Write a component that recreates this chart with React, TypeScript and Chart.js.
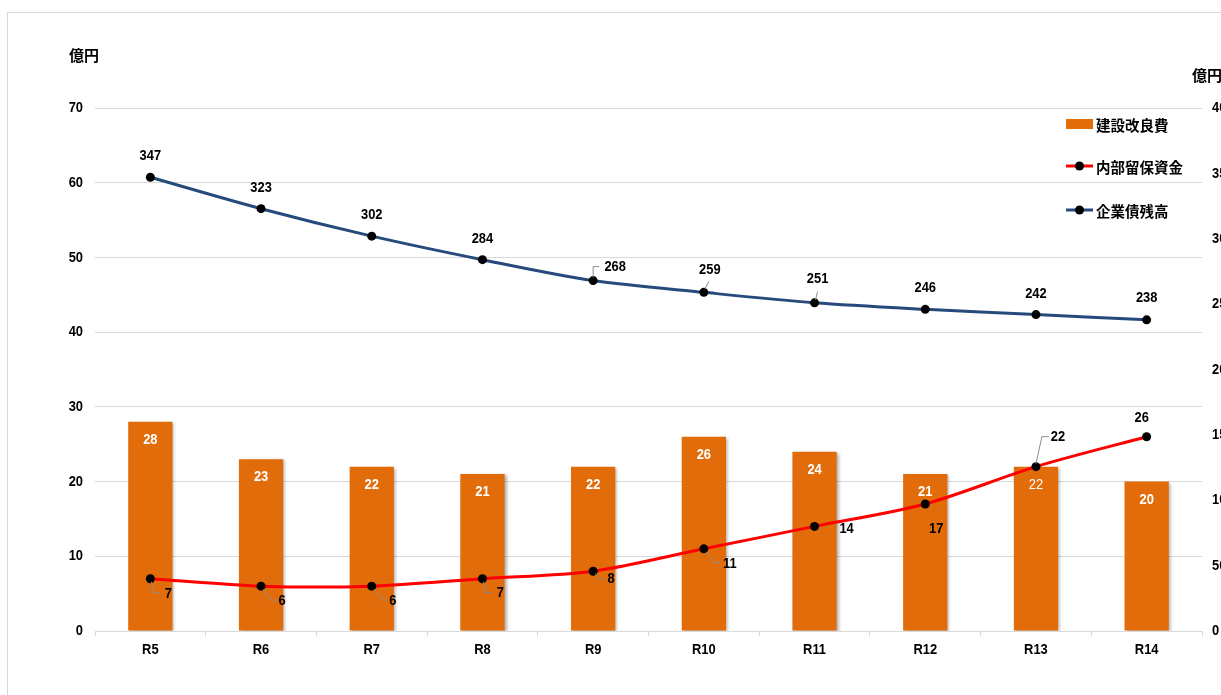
import React, { useEffect, useRef } from "react";
import { Chart, registerables } from "chart.js";

Chart.register(...registerables);

const categories = ["R5", "R6", "R7", "R8", "R9", "R10", "R11", "R12", "R13", "R14"];
const constructionCost = [28, 23, 22, 21, 22, 26, 24, 21, 22, 20];
const internalReserves = [7, 6, 6, 7, 8, 11, 14, 17, 22, 26];
const bondBalance = [347, 323, 302, 284, 268, 259, 251, 246, 242, 238];
const leftTicks = [0, 10, 20, 30, 40, 50, 60, 70];
const rightTicks = [0, 50, 100, 150, 200, 250, 300, 350, 400];
const legendLabels = ["建設改良費", "内部留保資金", "企業債残高"];
const axisUnit = "億円";

// label placement (offset of label centre from the point, optional leader polyline)
type LabelPos = { dx: number; dy: number; leader?: number[][] };
const reserveLabelPos: LabelPos[] = [
  { dx: 18, dy: 15, leader: [[1, 3], [3, 14], [10, 14]] },
  { dx: 21, dy: 15, leader: [[2, 3], [11, 14], [15, 14]] },
  { dx: 21, dy: 15, leader: [[2, 3], [11, 14], [15, 14]] },
  { dx: 18, dy: 14, leader: [[1, 3], [3, 14], [10, 14]] },
  { dx: 18, dy: 8, leader: [[2, 2], [6, 8], [12, 8]] },
  { dx: 26, dy: 15, leader: [[2, 3], [11, 14], [17, 14]] },
  { dx: 32, dy: 2 },
  { dx: 11, dy: 25 },
  { dx: 22, dy: -30, leader: [[0, -3], [6, -30], [13, -30]] },
  { dx: -5, dy: -19 },
];
const bondLabelPos: LabelPos[] = [
  { dx: 0, dy: -21 },
  { dx: 0, dy: -21 },
  { dx: 0, dy: -21 },
  { dx: 0, dy: -21 },
  { dx: 22, dy: -14, leader: [[0, -3], [0, -14], [6, -14]] },
  { dx: 6, dy: -22, leader: [[1, -3], [5, -11]] },
  { dx: 3, dy: -24, leader: [[1, -3], [3, -11]] },
  { dx: 0, dy: -21 },
  { dx: 0, dy: -21 },
  { dx: 0, dy: -22 },
];
const barLabelBold = [true, true, true, true, true, true, true, true, false, true];

const NUMFONT = "'Liberation Sans', Arial, sans-serif";
const NARROW = 0.86;
const JPFONT = "'Noto Sans CJK JP', sans-serif";
const ORANGE = "#E36C0A";
const RED = "#FF0000";
const BLUE = "#264A7C";
const GRID = "#D9D9D9";

function narrowText(ctx: CanvasRenderingContext2D, text: string, x: number, y: number, align: CanvasTextAlign, bold = true) {
  ctx.save();
  ctx.font = `${bold ? "bold " : ""}15px ${NUMFONT}`;
  ctx.textAlign = align;
  ctx.textBaseline = "middle";
  ctx.translate(x, y);
  ctx.scale(NARROW, 1);
  ctx.fillText(text, 0, 0);
  ctx.restore();
}

const labelPlugin = {
  id: "customLabels",
  beforeDatasetDraw(chart: any, args: any) {
    if (args.index === 0) {
      const ctx = chart.ctx;
      ctx.save();
      ctx.shadowColor = "rgba(0,0,0,0.3)";
      ctx.shadowBlur = 3;
      ctx.shadowOffsetX = 2;
      ctx.shadowOffsetY = 1;
    }
  },
  afterDatasetDraw(chart: any, args: any) {
    if (args.index === 0) chart.ctx.restore();
  },
  afterDatasetsDraw(chart: any) {
    const ctx = chart.ctx;
    const area = chart.chartArea;
    ctx.save();
    // tick labels
    ctx.fillStyle = "#000";
    const ys = chart.scales.y;
    leftTicks.forEach((v) => narrowText(ctx, String(v), area.left - 12, ys.getPixelForValue(v), "right"));
    const yr = chart.scales.y1;
    rightTicks.forEach((v) => narrowText(ctx, String(v), area.right + 10, yr.getPixelForValue(v), "left"));
    const xs = chart.scales.x;
    categories.forEach((c, i) => narrowText(ctx, c, xs.getPixelForValue(i), area.bottom + 19, "center"));

    // bar labels
    const barMeta = chart.getDatasetMeta(0);
    ctx.fillStyle = "#FFFFFF";
    barMeta.data.forEach((el: any, i: number) => {
      narrowText(ctx, String(constructionCost[i]), el.x, el.y + 18, "center", barLabelBold[i]);
    });
    const drawLineLabels = (dsIndex: number, values: number[], pos: LabelPos[]) => {
      const meta = chart.getDatasetMeta(dsIndex);
      meta.data.forEach((el: any, i: number) => {
        const p = pos[i];
        if (p.leader) {
          ctx.strokeStyle = "#8C8C8C";
          ctx.lineWidth = 1;
          ctx.beginPath();
          p.leader.forEach((pt, k) => {
            const x = el.x + pt[0];
            const y = el.y + pt[1];
            if (k === 0) ctx.moveTo(x, y);
            else ctx.lineTo(x, y);
          });
          ctx.stroke();
        }
        ctx.fillStyle = "#000000";
        narrowText(ctx, String(values[i]), el.x + p.dx, el.y + p.dy, "center");
      });
    };
    drawLineLabels(1, internalReserves, reserveLabelPos);
    drawLineLabels(2, bondBalance, bondLabelPos);

    // axis unit titles
    ctx.fillStyle = "#000000";
    ctx.font = `bold 15px ${JPFONT}`;
    ctx.textAlign = "left";
    ctx.textBaseline = "middle";
    ctx.fillText(axisUnit, 61, 42);
    ctx.fillText(axisUnit, 1184, 62);

    // legend
    const lx = 1058;
    const rows = [111, 153, 197];
    ctx.font = `bold 14.5px ${JPFONT}`;
    ctx.fillStyle = ORANGE;
    ctx.fillRect(lx, rows[0] - 5, 27, 10);
    [RED, BLUE].forEach((c, k) => {
      const y = rows[k + 1];
      ctx.strokeStyle = c;
      ctx.lineWidth = 3;
      ctx.beginPath();
      ctx.moveTo(lx, y);
      ctx.lineTo(lx + 27, y);
      ctx.stroke();
      ctx.fillStyle = "#000";
      ctx.beginPath();
      ctx.arc(lx + 13.5, y, 4.5, 0, Math.PI * 2);
      ctx.fill();
    });
    ctx.fillStyle = "#000";
    legendLabels.forEach((t, k) => {
      ctx.fillText(t, lx + 30, rows[k] + 1);
    });
    ctx.restore();
  },
};

export default function App() {
  const ref = useRef<HTMLCanvasElement>(null);
  useEffect(() => {
    if (!ref.current) return;
    const chart = new Chart(ref.current, {
      type: "bar",
      data: {
        labels: categories,
        datasets: [
          {
            type: "bar",
            label: legendLabels[0],
            data: constructionCost,
            backgroundColor: ORANGE,
            borderWidth: 0,
            barPercentage: 0.4,
            categoryPercentage: 1,
            yAxisID: "y",
            order: 3,
          },
          {
            type: "line",
            label: legendLabels[1],
            data: internalReserves,
            borderColor: RED,
            borderWidth: 3,
            pointRadius: 4.5,
            pointBackgroundColor: "#000",
            pointBorderWidth: 0,
            tension: 0.3,
            yAxisID: "y",
            order: 2,
          },
          {
            type: "line",
            label: legendLabels[2],
            data: bondBalance,
            borderColor: BLUE,
            borderWidth: 3,
            pointRadius: 4.5,
            pointBackgroundColor: "#000",
            pointBorderWidth: 0,
            tension: 0.3,
            yAxisID: "y1",
            order: 1,
          },
        ] as any,
      },
      options: {
        responsive: false,
        animation: false,
        devicePixelRatio: 1,
        layout: { padding: { left: 40, right: 16, top: 95, bottom: 42 } },
        plugins: { legend: { display: false }, tooltip: { enabled: false } },
        scales: {
          x: {
            grid: { offset: true, drawOnChartArea: false, tickLength: 5, color: GRID },
            border: { color: GRID },
            ticks: { display: false },
            afterFit: (s: any) => {
              s.height = 40;
            },
          },
          y: {
            position: "left",
            min: 0,
            max: 70,
            ticks: { stepSize: 10, display: false },
            grid: { color: GRID, drawTicks: false },
            border: { display: false },
            afterFit: (s: any) => {
              s.width = 47;
            },
          },
          y1: {
            position: "right",
            min: 0,
            max: 400,
            ticks: { stepSize: 50, display: false },
            grid: { display: false, drawTicks: false },
            border: { display: false },
            afterFit: (s: any) => {
              s.width = 50;
            },
          },
        },
      } as any,
      plugins: [labelPlugin],
    });
    return () => chart.destroy();
  }, []);
  return (
    <div style={{ position: "fixed", left: 0, top: 0, width: 1221, height: 695, overflow: "hidden", background: "#fff" }}>
      <div
        style={{
          position: "absolute",
          left: 7,
          top: 12,
          width: 1260,
          height: 700,
          border: `1px solid ${GRID}`,
        }}
      >
        <canvas ref={ref} width={1260} height={700} style={{ width: 1260, height: 700, display: "block" }} />
      </div>
    </div>
  );
}
